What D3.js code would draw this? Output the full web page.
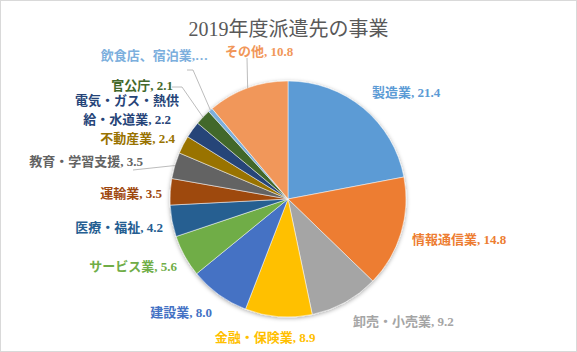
<!DOCTYPE html>
<html>
<head>
<meta charset="utf-8">
<script src="https://cdn.jsdelivr.net/npm/d3@7"></script>
<style>
  body { margin: 0; background: #fff; }
  svg { display: block; }
  text { font-family: "Liberation Serif", "Noto Sans CJK JP", serif; }
</style>
</head>
<body>
<svg id="chart" width="577" height="352"></svg>
<script>
// data
const title = "2019年度派遣先の事業";
const categories = ["製造業", "情報通信業", "卸売・小売業", "金融・保険業", "建設業", "サービス業",
  "医療・福祉", "運輸業", "教育・学習支援", "不動産業", "電気・ガス・熱供給・水道業", "官公庁",
  "飲食店、宿泊業", "その他"];
const values = [21.4, 14.8, 9.2, 8.9, 8.0, 5.6, 4.2, 3.5, 3.5, 2.4, 2.2, 2.1, 0.6, 10.8];
const colors = ["#5B9BD5", "#ED7D31", "#A5A5A5", "#FFC000", "#4472C4", "#70AD47", "#255E91",
  "#9E480E", "#636363", "#997300", "#264478", "#43682B", "#7CAFDD", "#F1975A"];

// label layout, offsets from the pie centre (Excel best-fit placement)
const labelLayout = [
  {dx: 84, dy: -107, anchor: "start"},
  {dx: 124, dy: 40, anchor: "start"},
  {dx: 65, dy: 122, anchor: "start"},
  {dx: -23, dy: 138, anchor: "middle"},
  {dx: -76, dy: 113, anchor: "end"},
  {dx: -111, dy: 67, anchor: "end"},
  {dx: -125, dy: 28, anchor: "end"},
  {dx: -126, dy: -6, anchor: "end"},
  {dx: -145, dy: -38, anchor: "end", leader: [-155, -29]},
  {dx: -113, dy: -61, anchor: "end"},
  {dx: -161, dy: -89, anchor: "middle", lines: ["電気・ガス・熱供", "給・水道業, 2.2"]},
  {dx: -115, dy: -114, anchor: "end", leader: [-116, -112, -106, -112]},
  {dx: -80, dy: -144, anchor: "end", leader: [-101, -129, -95, -129]},
  {dx: -63, dy: -148, anchor: "start", leader: [-41, -141]}
];

var svg = d3.select("#chart"),
  width = +svg.attr("width"),
  height = +svg.attr("height"),
  cx = 288, cy = 199, radius = 118;

svg.append("rect")
  .attr("x", 0.5).attr("y", 0.5)
  .attr("width", width - 1).attr("height", height - 1)
  .attr("fill", "#fff").attr("stroke", "#D9D9D9");

svg.append("text")
  .attr("x", width / 2).attr("y", 29)
  .attr("dy", "0.35em")
  .attr("text-anchor", "middle")
  .attr("font-size", 20)
  .attr("fill", "#595959")
  .text(title);

var defs = svg.append("defs");
defs.append("filter").attr("id", "shadow")
  .attr("x", "-20%").attr("y", "-20%").attr("width", "140%").attr("height", "140%")
  .append("feDropShadow")
  .attr("dx", 0).attr("dy", 1).attr("stdDeviation", 2)
  .attr("flood-color", "#000").attr("flood-opacity", 0.35);

var data = categories.map((c, i) => ({name: c, value: values[i], color: colors[i]}));

var pie = d3.pie().sort(null).value(d => d.value);
var arc = d3.arc().innerRadius(0).outerRadius(radius);
var arcs = pie(data);

var g = svg.append("g").attr("transform", "translate(" + cx + "," + cy + ")");

g.append("g")
  .attr("filter", "url(#shadow)")
  .selectAll("path")
  .data(arcs)
  .enter().append("path")
    .attr("d", arc)
    .attr("fill", d => d.data.color)
    .attr("stroke", "#fff")
    .attr("stroke-width", 0.5);

// leader lines go from the label to the edge of its slice
arcs.forEach((d, i) => {
  let lay = labelLayout[i];
  if (!lay.leader) return;
  let mid = (d.startAngle + d.endAngle) / 2;
  let edge = [radius * Math.sin(mid), -radius * Math.cos(mid)];
  let pts = [];
  for (let k = 0; k < lay.leader.length; k += 2) pts.push([lay.leader[k], lay.leader[k + 1]]);
  pts.push(edge);
  g.append("path")
    .attr("d", d3.line()(pts))
    .attr("fill", "none")
    .attr("stroke", "#A6A6A6")
    .attr("stroke-width", 0.75);
});

arcs.forEach((d, i) => {
  let lay = labelLayout[i];
  let name = d.data.name === "飲食店、宿泊業" ? "飲食店、宿泊業,…" : d.data.name + ", " + d3.format(".1f")(d.data.value);
  let lines = lay.lines || [name];
  let t = g.append("text")
    .attr("text-anchor", lay.anchor)
    .attr("font-size", 13)
    .attr("font-weight", "bold")
    .attr("fill", d.data.color);
  lines.forEach((ln, k) => {
    t.append("tspan")
      .attr("x", lay.dx)
      .attr("y", lay.dy + (k - (lines.length - 1) / 2) * 19)
      .attr("dy", "0.35em")
      .text(ln);
  });
});
</script>
</body>
</html>
